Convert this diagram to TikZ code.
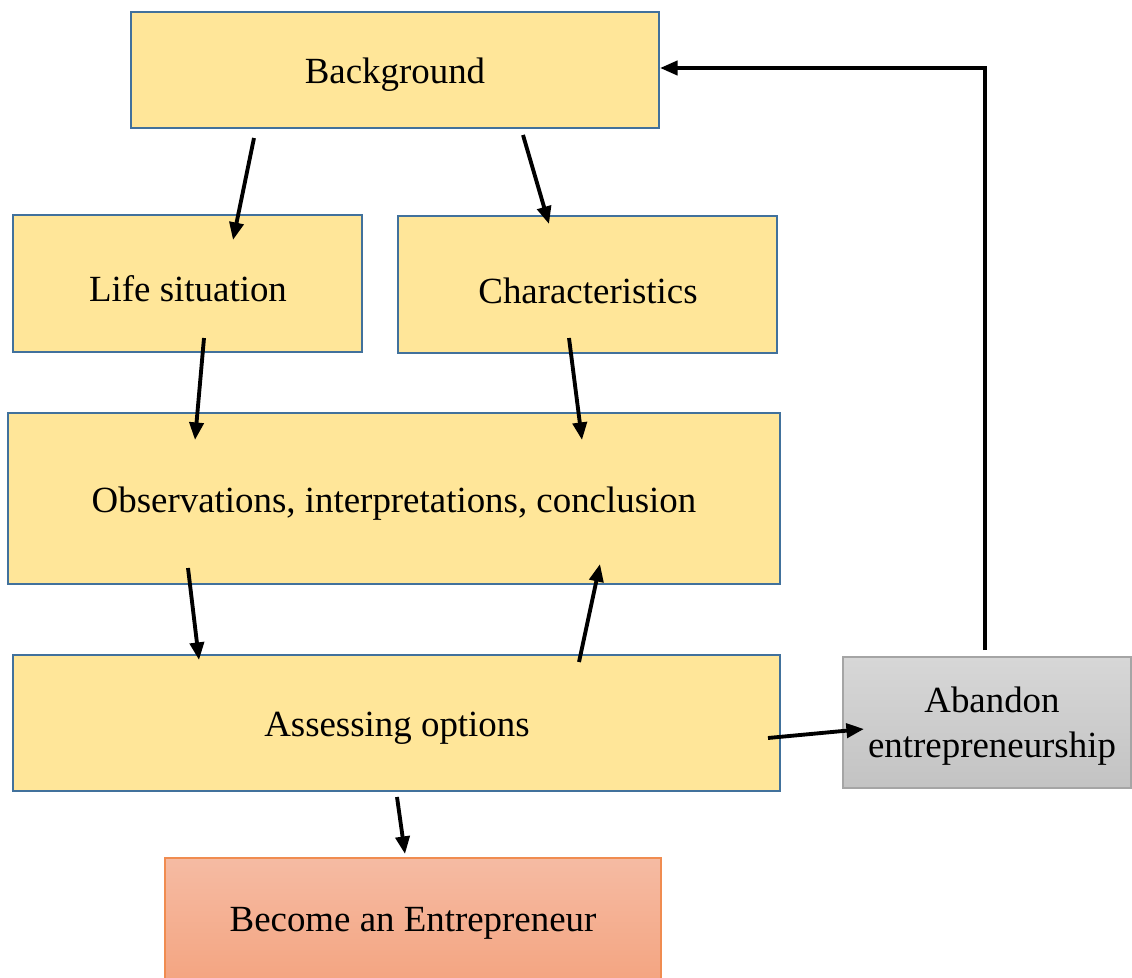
\documentclass[tikz,border=0pt]{standalone}
\usepackage{fontspec}
\setmainfont{Liberation Serif}
\usetikzlibrary{arrows.meta}
\definecolor{boxfill}{RGB}{255,230,153}
\definecolor{boxline}{RGB}{65,113,156}
\definecolor{graytop}{RGB}{215,215,215}
\definecolor{graybot}{RGB}{195,195,195}
\definecolor{grayline}{RGB}{165,165,165}
\definecolor{orgtop}{RGB}{245,187,163}
\definecolor{orgbot}{RGB}{244,164,128}
\definecolor{orgline}{RGB}{240,140,80}
\begin{document}
\begin{tikzpicture}[x=0.02cm,y=-0.02cm,
  yellowbox/.style={draw=boxline,line width=1.3pt,fill=boxfill},
  graybox/.style={draw=grayline,line width=0.8pt,top color=graytop,bottom color=graybot},
  orangebox/.style={draw=orgline,line width=0.8pt,top color=orgtop,bottom color=orgbot},
  txt/.style={font=\fontsize{21}{25}\selectfont,align=center},
  arr/.style={line width=2.2pt,-{Triangle[length=10pt,width=8pt]}}]
\useasboundingbox (0,0) rectangle (1132,977);
% boxes
\path[yellowbox] (131,12) rectangle (659,128);
\node[txt] (bg) at (395,75) {Background};
\path[yellowbox] (13,215) rectangle (362,352);
\node[txt] (life) at (188,289) {Life situation};
\path[yellowbox] (398,216) rectangle (777,353);
\node[txt] (char) at (588,291) {Characteristics};
\path[yellowbox] (8,413) rectangle (780,584);
\node[txt] (obs) at (394,504) {Observations, interpretations, conclusion};
\path[yellowbox] (13,655) rectangle (780,791);
\node[txt] (ass) at (397,728) {Assessing options};
\path[graybox] (843,657) rectangle (1131,788);
\node[txt,inner sep=0pt] (ab) at (992,726) {Abandon\\[1pt]entrepreneurship};
\path[orangebox] (165,858) rectangle (661,985);
\node[txt] (be) at (413,923) {Become an Entrepreneur};
% arrow endpoints
\coordinate (a1s) at (254,138); \coordinate (a1e) at (233,240);
\coordinate (a2s) at (523,135); \coordinate (a2e) at (549,224);
\coordinate (a3s) at (204,338); \coordinate (a3e) at (195,440);
\coordinate (a4s) at (569,338); \coordinate (a4e) at (582,440);
\coordinate (a5s) at (188,568); \coordinate (a5e) at (199,660);
\coordinate (a6s) at (579,662); \coordinate (a6e) at (600,564);
\coordinate (a7s) at (397,797); \coordinate (a7e) at (405,854);
\coordinate (a8s) at (768,738); \coordinate (a8e) at (864,729);
\coordinate (a9s) at (985,650); \coordinate (a9m) at (985,68); \coordinate (a9e) at (660,68);
\draw[arr] (a1s) -- (a1e);
\draw[arr] (a2s) -- (a2e);
\draw[arr] (a3s) -- (a3e);
\draw[arr] (a4s) -- (a4e);
\draw[arr] (a5s) -- (a5e);
\draw[arr] (a6s) -- (a6e);
\draw[arr] (a7s) -- (a7e);
\draw[arr] (a8s) -- (a8e);
\draw[arr] (a9s) -- (a9m) -- (a9e);
\end{tikzpicture}
\end{document}
